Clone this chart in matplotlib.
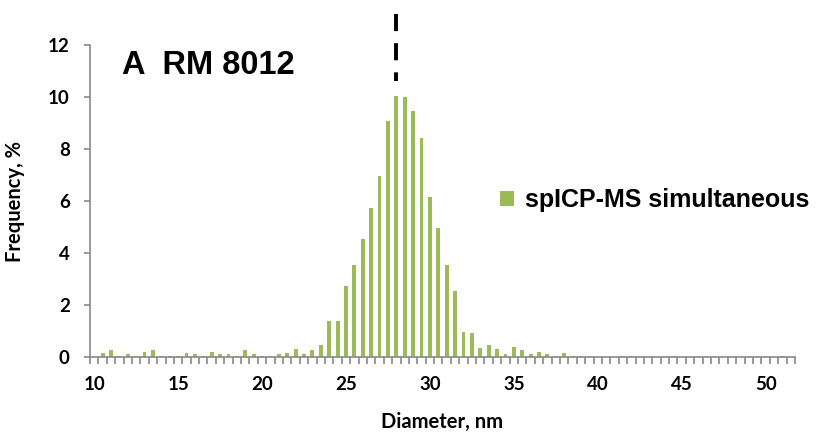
import matplotlib
matplotlib.use("Agg")
import matplotlib.pyplot as plt
from matplotlib.ticker import MultipleLocator
import numpy as np

# particle diameter bins (nm), 0.5 nm wide
diameter = np.arange(10.0, 52.0, 0.5)

# frequency per bin, %
frequency = [
    0.00, 0.14, 0.26, 0.04, 0.10, 0.04, 0.21, 0.26, 0.04, 0.04,   # 10.0 - 14.5
    0.04, 0.14, 0.10, 0.04, 0.19, 0.10, 0.10, 0.04, 0.26, 0.10,   # 15.0 - 19.5
    0.04, 0.04, 0.10, 0.14, 0.31, 0.12, 0.27, 0.48, 1.40, 1.40,   # 20.0 - 24.5
    2.73, 3.53, 4.55, 5.73, 6.95, 9.08, 10.05, 9.99, 9.46, 8.44,  # 25.0 - 29.5
    6.15, 4.97, 3.55, 2.53, 0.96, 0.92, 0.36, 0.47, 0.32, 0.10,   # 30.0 - 34.5
    0.37, 0.26, 0.10, 0.19, 0.12, 0.05, 0.15, 0.05, 0.05, 0.00,   # 35.0 - 39.5
    0.00, 0.00, 0.00, 0.05, 0.05, 0.00, 0.00, 0.00, 0.00, 0.05,   # 40.0 - 44.5
    0.00, 0.00, 0.00, 0.00, 0.00, 0.00, 0.00, 0.00, 0.00, 0.00,   # 45.0 - 49.5
    0.00, 0.00, 0.05, 0.00,                                       # 50.0 - 51.5
]

reference_size = 28.0
series_name = "spICP-MS simultaneous"
panel_title = "A  RM 8012"

green = "#9BBB59"
grey = "#898989"

fig = plt.figure(figsize=(8.2, 4.34), dpi=100)
ax = fig.add_axes([90 / 820, 1 - 357 / 434, 705 / 820, 312 / 434])

ax.bar(diameter, frequency, width=0.23, color=green, label=series_name, zorder=2)

ax.set_xlim(9.75, 51.75)
ax.set_ylim(0, 12)

for s in ["top", "right"]:
    ax.spines[s].set_visible(False)
for s in ["left", "bottom"]:
    ax.spines[s].set_color(grey)
    ax.spines[s].set_linewidth(1.2)

ax.xaxis.set_major_locator(MultipleLocator(5))
ax.set_xticks(np.arange(9.75, 51.8, 0.5), minor=True)
ax.yaxis.set_major_locator(MultipleLocator(2))

ax.tick_params(axis="x", which="major", length=0, pad=14)
ax.tick_params(axis="x", which="minor", length=5, width=1.2, color=grey, direction="out")
ax.tick_params(axis="y", which="major", length=4.5, width=1.2, color=grey, pad=10)
for lab in ax.get_xticklabels() + ax.get_yticklabels():
    lab.set_fontfamily("Lato")
    lab.set_fontweight("bold")
    lab.set_fontsize(13.5)

ax.set_xlabel("Diameter, nm", fontfamily="Lato", fontweight="bold", fontsize=14.5)
ax.set_ylabel("Frequency, %", fontfamily="Lato", fontweight="bold", fontsize=14.5)
ax.xaxis.set_label_coords(0.5, -0.176)
ax.yaxis.set_label_coords(-0.092, 0.5)

# reference diameter marker
ax.plot([reference_size, reference_size], [13.2, 10.6], color="black", lw=2.8,
        dashes=(4.4, 3.1), solid_capstyle="butt", dash_capstyle="butt",
        clip_on=False, zorder=3)

ax.text(0.045, 0.935, panel_title, transform=ax.transAxes, ha="left", va="center",
        fontfamily="Liberation Sans", fontweight="bold", fontsize=23.5)

leg = ax.legend(loc="center left", bbox_to_anchor=(488 / 820, 1 - 200 / 434),
                bbox_transform=fig.transFigure, frameon=False, borderpad=0,
                handlelength=0.55, handleheight=0.55, handletextpad=0.45,
                prop=dict(family="Liberation Sans", weight="bold", size=18))

fig.savefig("out.png", dpi=100)
